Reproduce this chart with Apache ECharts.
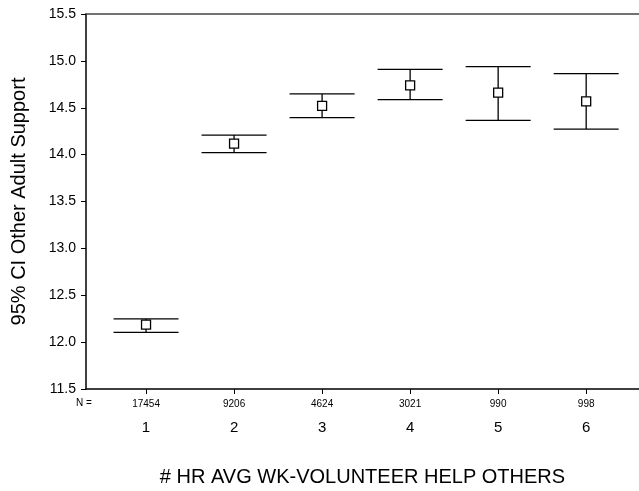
<!DOCTYPE html>
<html><head><meta charset="utf-8">
<script src="https://cdn.jsdelivr.net/npm/echarts@6/dist/echarts.min.js"></script>
<style>html,body{margin:0;padding:0;background:#fff}#c{width:639px;height:491px}</style>
</head><body><div id="c"></div>
<script>
var categories = [1, 2, 3, 4, 5, 6];
var nCounts = ['17454', '9206', '4624', '3021', '990', '998'];
var means = [12.186, 14.117, 14.519, 14.739, 14.661, 14.569];
var lower = [12.105, 14.021, 14.394, 14.586, 14.366, 14.273];
var upper = [12.247, 14.209, 14.647, 14.910, 14.938, 14.863];

var FONT = '"Liberation Sans", Arial, sans-serif';
var data = categories.map(function (c, i) { return [c, means[i], lower[i], upper[i]]; });

var chart = echarts.init(document.getElementById('c'), null, {renderer: 'canvas'});
chart.setOption({
  animation: false,
  backgroundColor: '#fff',
  grid: {left: 86, right: 0, top: 14, bottom: 102, containLabel: false, outerBoundsMode: 'none'},
  xAxis: [{
    type: 'value', min: 0.318, max: 6.6,
    name: '# HR AVG WK-VOLUNTEER HELP OTHERS', nameLocation: 'middle', nameGap: 78,
    nameTextStyle: {fontFamily: FONT, fontSize: 20, color: '#000'},
    axisLine: {show: true, onZero: false, lineStyle: {color: '#000', width: 1.5}},
    axisTick: {show: true, length: 5, customValues: categories, lineStyle: {color: '#000'}},
    axisLabel: {
      show: true, margin: 8, customValues: categories,
      formatter: function (v) {
        var i = categories.indexOf(Math.round(v));
        return '{n|' + nCounts[i] + '}\n{c|' + categories[i] + '}';
      },
      rich: {
        n: {fontFamily: FONT, fontSize: 10, lineHeight: 14, color: '#000'},
        c: {fontFamily: FONT, fontSize: 15, lineHeight: 34, color: '#000'}
      }
    },
    splitLine: {show: false}
  }, {
    type: 'value', position: 'top', min: 0.318, max: 6.6,
    axisLine: {show: true, lineStyle: {color: '#444', width: 1.5}},
    axisTick: {show: false}, axisLabel: {show: false}, splitLine: {show: false}
  }],
  yAxis: {
    type: 'value', min: 11.5, max: 15.5, interval: 0.5,
    name: '95% CI Other Adult Support', nameLocation: 'middle', nameGap: 57,
    nameTextStyle: {fontFamily: FONT, fontSize: 20, color: '#000'},
    axisLine: {show: true, lineStyle: {color: '#000', width: 1.5}},
    axisTick: {show: true, length: 5, lineStyle: {color: '#000'}},
    axisLabel: {fontFamily: FONT, fontSize: 14, color: '#000', margin: 10,
      formatter: function (v) { return v.toFixed(1); }},
    splitLine: {show: false}
  },
  graphic: [{
    type: 'text', left: 76, top: 398,
    style: {text: 'N =', fontFamily: FONT, fontSize: 10, fill: '#000'}
  }],
  series: [{
    type: 'custom',
    data: data,
    clip: false,
    renderItem: function (params, api) {
      var x = api.value(0);
      var pm = api.coord([x, api.value(1)]);
      var pl = api.coord([x, api.value(2)]);
      var pu = api.coord([x, api.value(3)]);
      var hw = 32.5, s = 4.5;
      var ls = {stroke: '#000', lineWidth: 1.3};
      return {
        type: 'group',
        children: [
          {type: 'line', shape: {x1: pl[0], y1: pl[1], x2: pu[0], y2: pu[1]}, style: ls},
          {type: 'line', shape: {x1: pu[0] - hw, y1: pu[1], x2: pu[0] + hw, y2: pu[1]}, style: ls},
          {type: 'line', shape: {x1: pl[0] - hw, y1: pl[1], x2: pl[0] + hw, y2: pl[1]}, style: ls},
          {type: 'rect', shape: {x: pm[0] - s, y: pm[1] - s, width: 2 * s, height: 2 * s},
            style: {fill: '#fff', stroke: '#000', lineWidth: 1.3}}
        ]
      };
    }
  }]
});
</script></body></html>
